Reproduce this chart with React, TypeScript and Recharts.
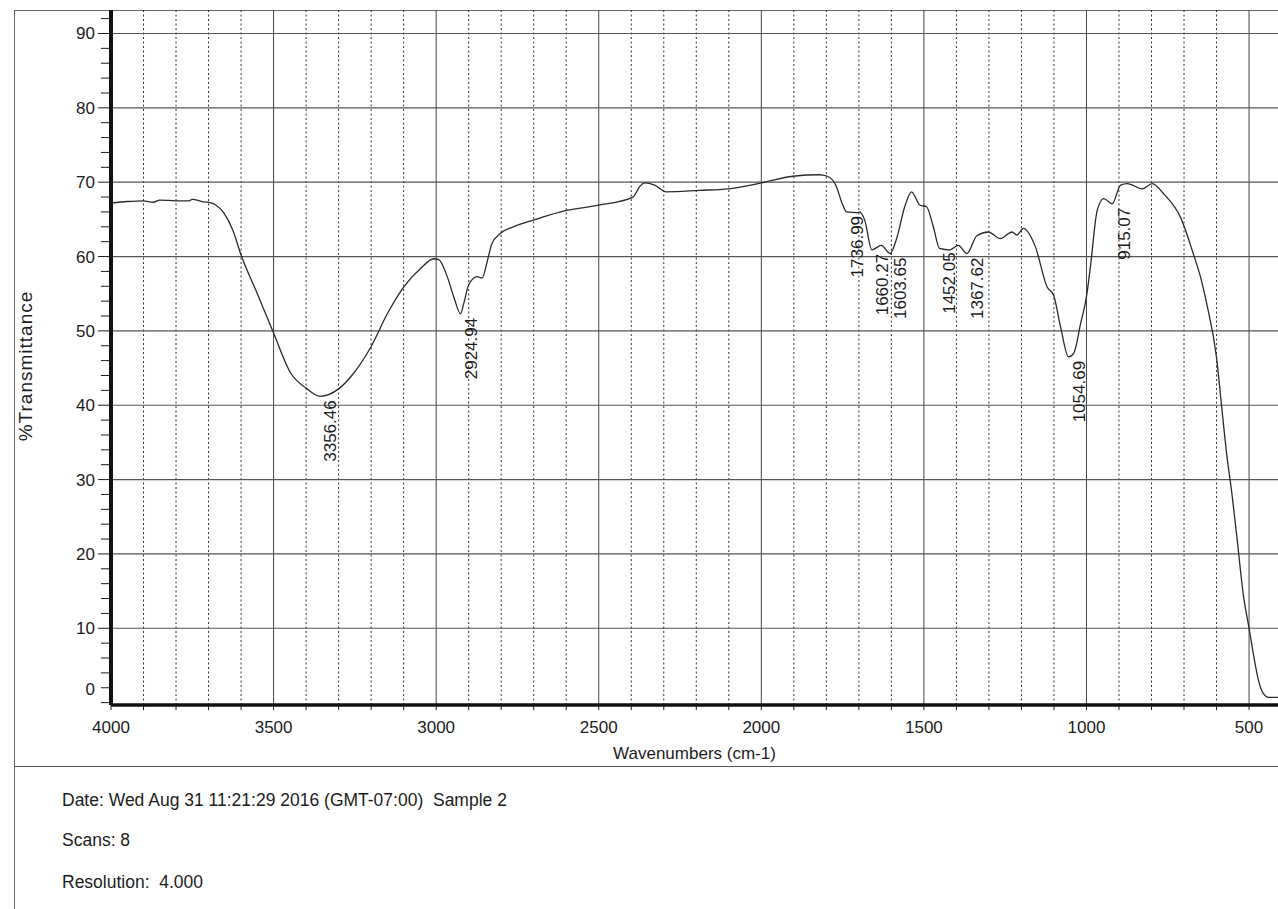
import { ComposedChart, Line, Scatter, XAxis, YAxis, ReferenceLine } from "recharts"

// spectrum, wavenumber (cm-1) -> %T
const WAVENUMBER = [
    4000, 3950, 3900, 3870, 3850, 3800, 3760, 3750, 3720, 3700, 3680, 3652, 3625, 3600,
    3550, 3500, 3447, 3400, 3356, 3300, 3252, 3200, 3149, 3100, 3048, 3007, 2992, 2966,
    2946, 2925, 2915, 2900, 2874, 2859, 2842, 2829, 2803, 2762, 2701, 2599, 2500, 2395,
    2374, 2359, 2328, 2293, 2190, 2102, 2000, 1903, 1822, 1797, 1771, 1751, 1738, 1705,
    1698, 1682, 1660, 1631, 1604, 1584, 1559, 1538, 1512, 1492, 1471, 1452, 1420, 1394,
    1368, 1337, 1302, 1265, 1229, 1214, 1194, 1157, 1121, 1101, 1080, 1055, 1039, 1018,
    1000, 988, 967, 947, 921, 895, 874, 828, 798, 762, 710, 671, 649, 630, 600, 584, 569,
    553, 538, 517, 500, 487, 471, 456, 440, 411,
]
const TRANSMITTANCE = [
    67.2, 67.4, 67.5, 67.3, 67.6, 67.5, 67.5, 67.7, 67.4, 67.3, 67.0, 65.8, 63.5, 60.2,
    55.0, 49.7, 44.3, 42.3, 41.2, 42.2, 44.4, 47.9, 52.4, 55.9, 58.4, 59.7, 59.6, 57.3,
    54.6, 52.3, 53.7, 56.2, 57.3, 57.1, 59.5, 61.7, 63.1, 64.0, 64.9, 66.2, 66.9, 68.0,
    69.4, 69.9, 69.6, 68.7, 68.9, 69.1, 69.9, 70.8, 71.0, 70.8, 69.6, 67.1, 66.0, 65.9,
    66.0, 64.9, 60.9, 61.5, 60.4, 62.4, 66.7, 68.7, 66.9, 66.7, 64.0, 61.1, 60.9, 61.5,
    60.4, 62.8, 63.3, 62.4, 63.3, 62.9, 63.8, 61.3, 55.9, 54.8, 50.6, 46.5, 47.0, 51.0,
    54.6, 58.6, 66.2, 67.8, 67.1, 69.6, 69.8, 69.1, 69.8, 68.4, 65.2, 60.3, 57.2, 53.6,
    46.4, 39.7, 33.5, 28.2, 22.5, 14.3, 10.0, 6.6, 3.0, 1.2, 0.7, 0.7,
]

// picked peaks
const PEAK_WAVENUMBER = [3356.46, 2924.94, 1736.99, 1660.27, 1603.65, 1452.05, 1367.62, 1054.69, 915.07]
const PEAK_T = [41.2, 52.3, 66.0, 60.9, 60.4, 61.1, 60.4, 46.5, 67.1]

const X_MAJOR = [3500, 3000, 2500, 2000, 1500, 1000, 500]
const X_MINOR = [
    3900, 3800, 3700, 3600, 3400, 3300, 3200, 3100, 2900, 2800, 2700, 2600, 2400, 2300,
    2200, 2100, 1900, 1800, 1700, 1600, 1400, 1300, 1200, 1100, 900, 800, 700, 600,
]
const X_TICKS = [
    4000, 3900, 3800, 3700, 3600, 3500, 3400, 3300, 3200, 3100, 3000, 2900, 2800, 2700,
    2600, 2500, 2400, 2300, 2200, 2100, 2000, 1900, 1800, 1700, 1600, 1500, 1400, 1300,
    1200, 1100, 1000, 900, 800, 700, 600, 500,
]
const Y_MAJOR = [10, 20, 30, 40, 50, 60, 70, 80, 90]
const Y_TICKS = [
    0, 2, 4, 6, 8, 10, 12, 14, 16, 18, 20, 22, 24, 26, 28, 30, 32, 34, 36, 38, 40, 42, 44,
    46, 48, 50, 52, 54, 56, 58, 60, 62, 64, 66, 68, 70, 72, 74, 76, 78, 80, 82, 84, 86, 88,
    90, 92,
]

const spectrum = WAVENUMBER.map((w, i) => ({ w, t: TRANSMITTANCE[i] }))
const peaks = PEAK_WAVENUMBER.map((w, i) => ({ w, t: PEAK_T[i], label: w.toFixed(2) }))

const FONT = "'Liberation Sans', Arial, sans-serif"
const INK = "#1c1c1c"

const XTick = (props: any) => {
    const { x, y, payload } = props
    const v = payload.value
    return (
        <g transform={`translate(${x},${y})`}>
            <line y1={0} y2={5} stroke={INK} strokeWidth={1} />
            {v % 500 === 0 && (
                <text y={28} textAnchor="middle" fontSize={17} fontFamily={FONT} fill={INK}>
                    {v}
                </text>
            )}
        </g>
    )
}

const YTick = (props: any) => {
    const { x, y, payload } = props
    const v = payload.value
    const major = v % 10 === 0
    // the printout puts its "0" one minor step too high
    const shift = v === 0 ? -14 : 0
    return (
        <g transform={`translate(${x},${y})`}>
            <line x1={major && v !== 0 ? -13 : -10} x2={0} stroke={INK} strokeWidth={1} />
            {major && (
                <text x={-16} y={shift} dy={6} textAnchor="end" fontSize={17} fontFamily={FONT} fill={INK}>
                    {v}
                </text>
            )}
        </g>
    )
}

const PeakLabel = (props: any) => {
    const { cx, cy, payload } = props
    const ax = cx + 16
    const ay = cy + 4
    return (
        <text
            x={ax}
            y={ay}
            transform={`rotate(-90 ${ax} ${ay})`}
            textAnchor="end"
            fontSize={17}
            fontFamily={FONT}
            fill={INK}
        >
            {payload.label}
        </text>
    )
}

export default function App() {
    return (
        <div
            style={{
                position: "absolute",
                left: 0,
                top: 0,
                width: 1278,
                height: 909,
                background: "#fff",
                overflow: "hidden",
                fontFamily: FONT,
                color: INK,
            }}
        >
            {/* page frame */}
            <div style={{ position: "absolute", left: 14, top: 10, width: 1264, height: 899, borderLeft: "1px solid #666", borderTop: "1px solid #666" }} />
            <div style={{ position: "absolute", left: 14, top: 766, width: 1264, borderTop: "1.5px solid #555" }} />

            <div style={{ position: "absolute", left: 0, top: 0 }}>
                <ComposedChart
                    width={1278}
                    height={770}
                    data={spectrum}
                    margin={{ top: 10, right: 0, left: 10, bottom: 20 }}
                >
                    {X_MINOR.map((w) => (
                        <ReferenceLine key={"xm" + w} x={w} stroke="#333" strokeWidth={1} strokeDasharray="2 2.5" />
                    ))}
                    {X_MAJOR.map((w) => (
                        <ReferenceLine key={"xM" + w} x={w} stroke="#444" strokeWidth={1} />
                    ))}
                    {Y_MAJOR.map((v) => (
                        <ReferenceLine key={"y" + v} y={v} stroke="#555" strokeWidth={1.2} />
                    ))}

                    <XAxis
                        type="number"
                        dataKey="w"
                        domain={[411, 4000]}
                        reversed
                        allowDataOverflow
                        ticks={X_TICKS}
                        interval={0}
                        tick={<XTick />}
                        tickLine={false}
                        tickSize={0}
                        tickMargin={0}
                        height={45}
                        axisLine={{ stroke: "#111", strokeWidth: 3.5 }}
                        label={{
                            value: "Wavenumbers (cm-1)",
                            position: "insideBottom",
                            offset: -9,
                            fontSize: 17,
                            fontFamily: FONT,
                            fill: INK,
                        }}
                    />
                    <YAxis
                        type="number"
                        domain={[-0.32, 93.16]}
                        allowDataOverflow
                        ticks={Y_TICKS}
                        interval={0}
                        tick={<YTick />}
                        tickLine={false}
                        tickSize={0}
                        tickMargin={0}
                        width={101}
                        axisLine={{ stroke: "#111", strokeWidth: 4 }}
                    />

                    <Line
                        type="monotone"
                        dataKey="t"
                        stroke="#2a2a2a"
                        strokeWidth={1.3}
                        dot={false}
                        activeDot={false}
                        isAnimationActive={false}
                    />
                    <Scatter data={peaks} dataKey="t" shape={<PeakLabel />} isAnimationActive={false} />
                </ComposedChart>
            </div>

            {/* y title */}
            <div
                style={{
                    position: "absolute",
                    left: 26,
                    top: 366,
                    transform: "translate(-50%, -50%) rotate(-90deg)",
                    fontSize: 19,
                    letterSpacing: 1,
                    whiteSpace: "nowrap",
                }}
            >
                %Transmittance
            </div>

            {/* run info */}
            <div style={{ position: "absolute", left: 62, top: 792, fontSize: 17.5, lineHeight: "17.5px", whiteSpace: "pre" }}>
                {"Date: Wed Aug 31 11:21:29 2016 (GMT-07:00)  Sample 2"}
            </div>
            <div style={{ position: "absolute", left: 62, top: 832, fontSize: 17.5, lineHeight: "17.5px", whiteSpace: "pre" }}>
                {"Scans: 8"}
            </div>
            <div style={{ position: "absolute", left: 62, top: 874, fontSize: 17.5, lineHeight: "17.5px", whiteSpace: "pre" }}>
                {"Resolution:  4.000"}
            </div>
        </div>
    )
}
